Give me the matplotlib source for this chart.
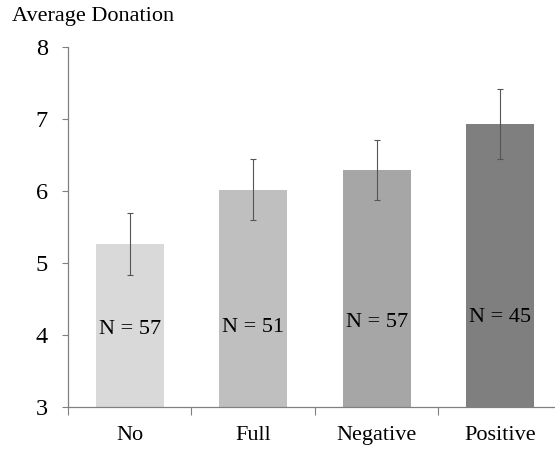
import matplotlib
matplotlib.use("Agg")
import matplotlib.pyplot as plt
import numpy as np

plt.rcParams['font.family'] = ['Liberation Serif', 'DejaVu Serif']

categories = ["No", "Full", "Negative", "Positive"]
means = [5.27, 6.02, 6.29, 6.93]
err_low = [4.83, 5.60, 5.87, 6.45]
err_high = [5.70, 6.45, 6.71, 7.42]
n_labels = ["N = 57", "N = 51", "N = 57", "N = 45"]
label_y = [4.07, 4.11, 4.18, 4.24]
colors = ["#d9d9d9", "#bfbfbf", "#a6a6a6", "#7f7f7f"]

fig = plt.figure(figsize=(5.55, 4.5), dpi=100)
ax = fig.add_axes([68/555, 1 - 407/450, 1 - 68/555, 360/450])

x = np.arange(len(categories))
means = np.array(means)
yerr = [means - np.array(err_low), np.array(err_high) - means]
ax.bar(x, means - 3, bottom=3, width=0.55, color=colors, zorder=2)
ax.errorbar(x, means, yerr=yerr, fmt="none", ecolor="#555555", elinewidth=0.8,
            capsize=2.5, capthick=0.8, zorder=3)

for xi, yi, t in zip(x, label_y, n_labels):
    ax.text(xi, yi, t, ha="center", va="center", fontsize=16, color="black", zorder=4)

ax.set_ylim(3, 8)
ax.set_xlim(-0.5, 3.445)
ax.set_yticks([3, 4, 5, 6, 7, 8])
ax.tick_params(axis="y", labelsize=17.5, length=4.5, width=0.8, color="#808080", pad=10)

ax.set_xticks(x)
ax.set_xticklabels(categories, fontsize=16)
ax.tick_params(axis="x", length=0, pad=14)
ax.set_xticks([-0.5, 0.5, 1.5, 2.5], minor=True)
ax.tick_params(axis="x", which="minor", length=6, width=0.8, color="#808080", direction="out")

for s in ["top", "right"]:
    ax.spines[s].set_visible(False)
for s in ["left", "bottom"]:
    ax.spines[s].set_color("#808080")
    ax.spines[s].set_linewidth(0.9)

fig.text(12/555, 1 - 16/450, "Average Donation", fontsize=16, ha="left", va="center")

fig.savefig("out.png", dpi=100)
